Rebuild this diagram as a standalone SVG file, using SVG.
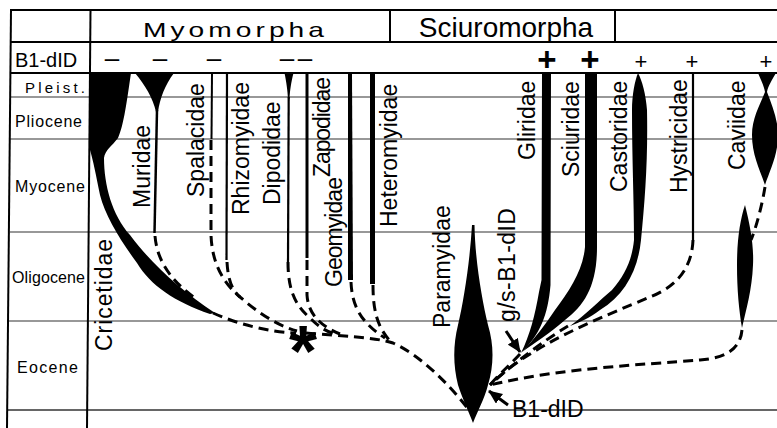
<svg xmlns="http://www.w3.org/2000/svg" width="777" height="428" viewBox="0 0 777 428">
<defs>
<marker id="ah" markerUnits="userSpaceOnUse" markerWidth="14" markerHeight="12" refX="13" refY="6" orient="auto"><path d="M0,0 L14,6 L0,12 Z" fill="#000"/></marker>
</defs>
<style>
text{font-family:"Liberation Sans",Arial,sans-serif;fill:#000}
.lbl{font-size:23px}
.grid{stroke:#000;stroke-width:2;fill:none}
.thin{stroke:#333;stroke-width:1.2;fill:none}
.dash{stroke:#000;stroke-width:3;fill:none;stroke-dasharray:10 6}
.ln{stroke:#000;fill:none}
.blk{fill:#000}
</style>
<rect width="777" height="428" fill="#fff"/>

<g id="grid">
<line class="grid" x1="10" y1="10" x2="777" y2="10"/>
<line class="grid" x1="10" y1="42" x2="777" y2="42"/>
<line class="grid" x1="10" y1="73" x2="777" y2="73"/>
<line class="thin" x1="10" y1="97" x2="777" y2="97"/>
<line class="thin" x1="10" y1="139" x2="777" y2="139"/>
<line class="thin" x1="10" y1="232" x2="777" y2="232"/>
<line class="thin" x1="9" y1="321" x2="777" y2="321"/>
<line class="thin" x1="8" y1="410" x2="777" y2="410" style="stroke-width:1.5"/>
<line class="grid" x1="11" y1="10" x2="7" y2="428"/>
<line class="grid" x1="90.5" y1="10" x2="87" y2="428"/>
<line class="grid" x1="390" y1="10" x2="390" y2="42"/>
<line class="grid" x1="615" y1="10" x2="615" y2="42"/>
</g>

<g id="header">
<text x="143" y="37" font-size="21" letter-spacing="3" textLength="185" lengthAdjust="spacingAndGlyphs">Myomorpha</text>
<text x="506" y="37" font-size="28" text-anchor="middle">Sciuromorpha</text>
<text x="15" y="67" font-size="20">B1-dID</text>
<text x="112" y="67" font-size="26" text-anchor="middle">–</text>
<text x="160" y="67" font-size="26" text-anchor="middle">–</text>
<text x="214" y="67" font-size="26" text-anchor="middle">–</text>
<text x="287" y="67" font-size="26" text-anchor="middle">–</text>
<text x="305" y="67" font-size="26" text-anchor="middle">–</text>
<text x="547" y="71" font-size="33" font-weight="bold" text-anchor="middle">+</text>
<text x="590" y="71" font-size="33" font-weight="bold" text-anchor="middle">+</text>
<text x="641" y="69" font-size="22" text-anchor="middle">+</text>
<text x="692" y="69" font-size="22" text-anchor="middle">+</text>
<text x="766" y="69" font-size="22" text-anchor="middle">+</text>
</g>

<g id="periods">
<text x="25" y="93" font-size="15" textLength="60">Pleist.</text>
<text x="15" y="127" font-size="16" textLength="67">Pliocene</text>
<text x="15" y="192" font-size="16" textLength="70">Myocene</text>
<text x="12" y="283" font-size="16" textLength="73">Oligocene</text>
<text x="17" y="373" font-size="16" textLength="61">Eocene</text>
</g>

<g id="connectors">
<path class="dash" d="M155,236 C157,260 170,280 195,298"/>
<path class="dash" d="M213,313 C240,325 270,332 296,333"/>
<path class="dash" d="M211,140 L211,235 C212,262 222,282 240,297 C255,310 275,325 297,331"/>
<path class="dash" d="M227,262 C228,280 232,290 240,297"/>
<path class="dash" d="M288,262 C288,290 295,305 310,318 C318,326 325,331 335,334"/>
<path class="dash" d="M307,260 L307,295 C308,312 318,325 340,334"/>
<path class="dash" d="M306,333 C340,336 375,337 393,343 C420,355 450,385 469,410"/>
<path class="dash" d="M351,282 C352,305 360,322 385,338"/>
<path class="dash" d="M373,285 C373,310 377,328 392,343"/>
<path class="dash" d="M520,354 C510,365 498,375 490,385"/>
<path class="dash" d="M568,326 C545,340 515,362 490,385"/>
<path class="dash" d="M693,240 C692,265 680,285 650,297 C600,318 530,345 490,385"/>
<path class="dash" d="M742,330 C740,350 725,358 700,360 C640,365 560,368 490,385"/>
<path class="dash" d="M765,187 C762,205 757,225 751,240"/>
<line class="ln" x1="506" y1="331" x2="520" y2="352" stroke-width="3" marker-end="url(#ah)"/>
<line class="ln" x1="508" y1="405" x2="489" y2="391" stroke-width="3" marker-end="url(#ah)"/>
</g>

<g id="cricetidae">
<path class="blk" d="M90,73 L131,73 C127,100 124,125 118,138 C112,146 105,150 104,158 C104,185 112,215 130,235 C150,262 180,290 215,313 L210,314 C175,302 150,285 137,263 C120,240 105,215 100,195 C96,175 93,160 90,150 Z"/>
<text class="lbl" transform="translate(112,351) rotate(-90)" textLength="112">Cricetidae</text>
</g>
<g id="muridae">
<path class="blk" d="M135,73 L174,73 C165,85 160,98 158,112 L156,112 C153,98 145,85 135,73 Z"/>
<line class="ln" x1="157" y1="110" x2="154.5" y2="233" stroke-width="2.5"/>
<text class="lbl" transform="translate(150,208) rotate(-90)">Muridae</text>
</g>
<g id="spalacidae">
<line class="ln" x1="212" y1="73" x2="211.5" y2="139" stroke-width="2"/>
<text class="lbl" transform="translate(204,197) rotate(-90)">Spalacidae</text>
</g>
<g id="rhizomyidae">
<line class="ln" x1="227" y1="73" x2="226.5" y2="260" stroke-width="2.2"/>
<text class="lbl" transform="translate(249,215) rotate(-90)">Rhizomyidae</text>
</g>
<g id="dipodidae">
<path class="blk" d="M284.5,73 L293.5,73 C291,83 290,90 289.5,99 L288,99 C287.5,90 286.5,83 284.5,73 Z"/>
<line class="ln" x1="288.7" y1="97" x2="288" y2="262" stroke-width="2.2"/>
<text class="lbl" transform="translate(280,205) rotate(-90)">Dipodidae</text>
</g>
<g id="zapodidae">
<line class="ln" x1="307" y1="73" x2="307" y2="258" stroke-width="3"/>
<text class="lbl" transform="translate(330,177) rotate(-90)" textLength="100">Zapodidae</text>
</g>
<g id="geomyidae">
<path class="blk" d="M348,73 L352,73 L353,280 L348,280 Z"/>
<text class="lbl" transform="translate(342,287) rotate(-90)" textLength="110">Geomyidae</text>
</g>
<g id="heteromyidae">
<line class="ln" x1="372.5" y1="73" x2="372.5" y2="284" stroke-width="5"/>
<text class="lbl" transform="translate(397,227) rotate(-90)">Heteromyidae</text>
</g>
<g id="paramyidae">
<path class="blk" d="M472,225 L474.5,225 C475,260 482,300 488,325 C494,345 494,365 488,385 C484,400 478,410 473,423 C468,410 463,400 458,385 C453,365 453,345 458,325 C464,300 470,260 472,225 Z"/>
<text class="lbl" transform="translate(450,328) rotate(-90)">Paramyidae</text>
</g>
<g id="gs-b1did">
<text class="lbl" transform="translate(515,322) rotate(-90)" textLength="114">g/s-B1-dID</text>
</g>
<g id="b1did">
<text x="512" y="417" font-size="23">B1-dID</text>
</g>
<g id="gliridae">
<path class="blk" d="M542,73 L551,73 L550.5,285 C548,315 540,335 521,353 C530,335 535,315 539,292 L541.5,280 Z"/>
<text class="lbl" transform="translate(535,160) rotate(-90)">Gliridae</text>
</g>
<g id="sciuridae">
<path class="blk" d="M585,73 L597,73 L597,247 C597,285 585,305 565,320 C550,333 535,343 522,352 C535,338 545,325 555,310 C570,290 583,270 585,247 Z"/>
<text class="lbl" transform="translate(579,177) rotate(-90)">Sciuridae</text>
</g>
<g id="castoridae">
<path class="blk" d="M638,73 C642,80 646,95 647,110 C648,160 645,200 641,240 C638,270 625,295 600,310 C590,318 580,322 570,326 C585,315 600,300 612,290 C625,275 632,260 634,240 C634,200 632,160 632,110 C632,95 635,80 638,73 Z"/>
<text class="lbl" transform="translate(627,192) rotate(-90)">Castoridae</text>
</g>
<g id="hystricidae">
<line class="ln" x1="693" y1="73" x2="693" y2="240" stroke-width="2.2"/>
<text class="lbl" transform="translate(687,193) rotate(-90)">Hystricidae</text>
</g>
<g id="caviidae">
<path class="blk" d="M758,73 L776,73 C772,80 768,86 767,92 C772,105 778,120 778,135 C778,155 770,170 765,185 C760,170 752,155 752,135 C752,118 760,105 765,92 C764,86 761,80 758,73 Z"/>
<path class="blk" d="M745,205 C750,225 754,245 753,265 C752,290 746,310 742,328 C739,310 737,290 737,265 C737,240 740,220 745,205 Z"/>
<text class="lbl" transform="translate(745,170) rotate(-90)">Caviidae</text>
</g>
<g id="asterisk">
<text x="303" y="376" font-size="72" font-weight="bold" text-anchor="middle">*</text>
</g>
</svg>
